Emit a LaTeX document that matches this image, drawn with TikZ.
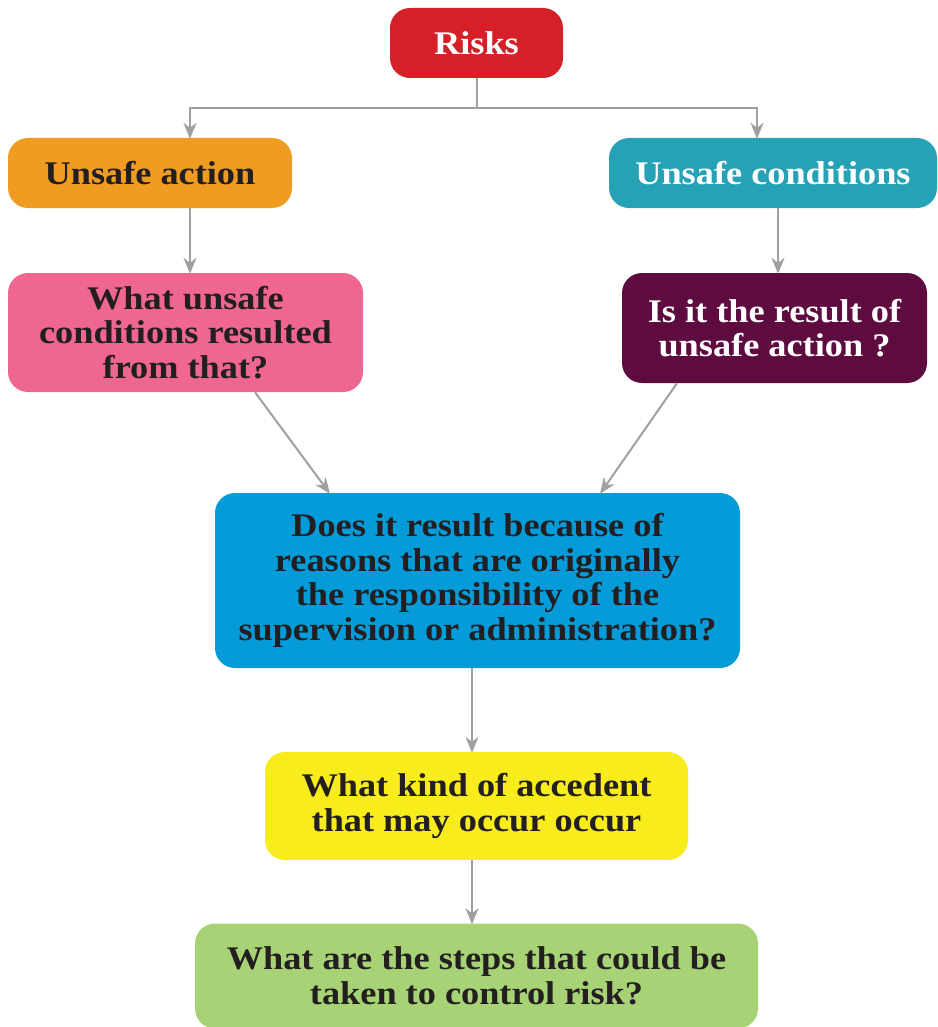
\documentclass[tikz,border=0pt]{standalone}
\usepackage{fontspec}
\setmainfont[FakeStretch=1.1]{Liberation Serif}
\usetikzlibrary{positioning,
        arrows.meta}
\usepackage{xcolor}
\definecolor{riskred}{HTML}{D52028}
\definecolor{actorange}{HTML}{F09C22}
\definecolor{condteal}{HTML}{25A2B6}
\definecolor{whatpink}{HTML}{EF6790}
\definecolor{isitplum}{HTML}{5E0C40}
\definecolor{doesblue}{HTML}{059BD8}
\definecolor{kindyellow}{HTML}{F8EC1C}
\definecolor{stepsgreen}{HTML}{A7D376}
\definecolor{inkdark}{HTML}{231F20}
\definecolor{linegray}{HTML}{A0A0A2}

\begin{document}
\begin{tikzpicture}[x=1pt,y=-1pt,
        box/.style={rounded corners=20pt,align=center,inner sep=0pt,
            font=\bfseries\fontsize{33}{34.5}\selectfont,text=inkdark},
        link/.style={draw=linegray,line width=2pt},
        arr/.style={link,-{Stealth[length=16pt,width=13pt,inset=5pt]}}]
            \useasboundingbox (0,0) rectangle (937,1027);
            \node [box,fill=riskred,text=white,minimum width=173pt,minimum height=70pt] (risks) at (476.5,43) {Risks};
            \node [box,fill=actorange,minimum width=284pt,minimum height=70pt] (act) at (150,173) {Unsafe action};
            \node [box,fill=condteal,text=white,minimum width=328pt,minimum height=70pt] (cond) at (773,173) {Unsafe conditions};
            \node [box,fill=whatpink,minimum width=355pt,minimum height=119pt] (what) at (185.5,332.5) {What unsafe\\conditions resulted\\from that?};
            \node [box,fill=isitplum,text=white,minimum width=305pt,minimum height=110pt] (isit) at (774.5,328) {Is it the result of\\unsafe action ?};
            \node [box,fill=doesblue,minimum width=525pt,minimum height=175pt] (does) at (477.5,580.5) {Does it result because of\\reasons that are originally\\the responsibility of the\\supervision or administration?};
            \node [box,fill=kindyellow,minimum width=423pt,minimum height=108pt] (kind) at (476.5,806) {What kind of accedent\\that may occur occur};
            \node [box,fill=stepsgreen,minimum width=563pt,minimum height=105pt] (steps) at (476.5,976) {What are the steps that could be\\taken to control risk?};

            % splitting point under Risks
            \coordinate (split) at (476.5,108);
            \draw [link] (risks.south) -- (split);
            \draw [arr] (split) -| ([xshift=40pt,yshift=-1pt]act.north);
            \draw [arr] (split) -| ([xshift=-16pt,yshift=-1pt]cond.north);

            \draw [arr] ([xshift=40pt]act.south) -- ([xshift=4.5pt,yshift=-1pt]what.north);
            \draw [arr] ([xshift=5pt]cond.south) -- ([xshift=3.5pt,yshift=-1pt]isit.north);
            \draw [arr] ([xshift=69.5pt]what.south) -- ([xshift=-147.5pt,yshift=-1pt]does.north);
            \draw [arr] ([xshift=-97.5pt]isit.south) -- ([xshift=122.5pt,yshift=-1pt]does.north);
            \draw [arr] ([xshift=-5.5pt]does.south) -- ([xshift=-4.5pt,yshift=-1pt]kind.north);
            \draw [arr] ([xshift=-4.5pt]kind.south) -- ([xshift=-4.5pt,yshift=-1pt]steps.north);
        \end{tikzpicture}
\end{document}
